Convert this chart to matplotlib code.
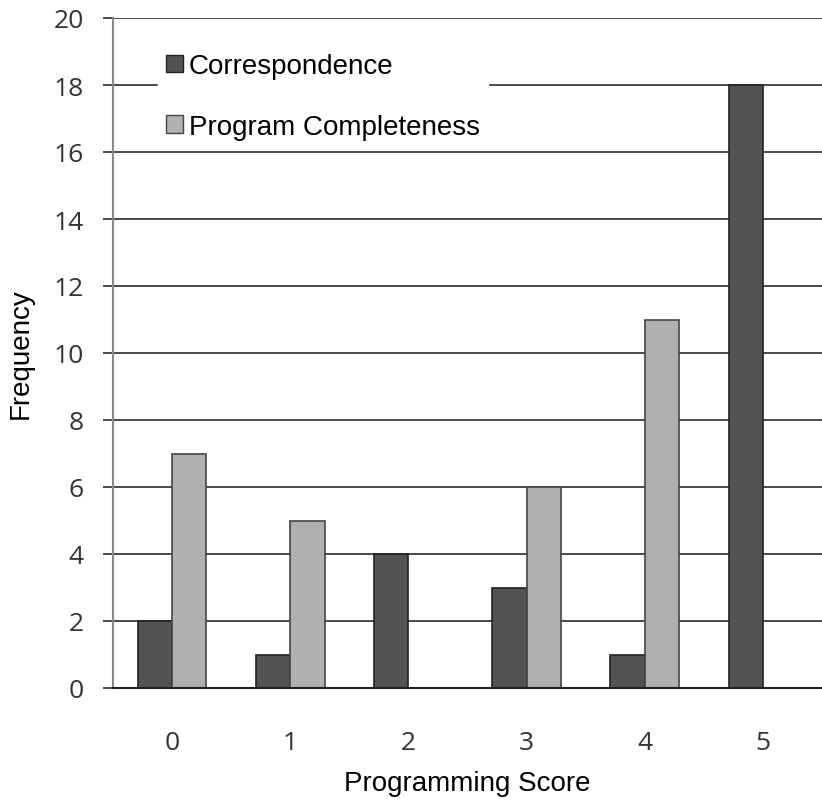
import matplotlib.pyplot as plt
import numpy as np
from matplotlib.patches import Patch

# data
scores = [0, 1, 2, 3, 4, 5]
correspondence = [2, 1, 4, 3, 1, 18]
completeness = [7, 5, 0, 6, 11, 0]
yticks = [0, 2, 4, 6, 8, 10, 12, 14, 16, 18, 20]

dark = '#535353'
light = '#b0b0b0'

fig = plt.figure(figsize=(8.22, 8.03), dpi=100)
ax = fig.add_axes([113/822, 114/803, 709/822, 670/803])

x = np.arange(len(scores))
w = 0.29
ax.bar(x - w/2, correspondence, width=w, color=dark, edgecolor='#222222', linewidth=1.2, zorder=3)
ax.bar(x + w/2, completeness, width=w, color=light, edgecolor='#444444', linewidth=1.2, zorder=3)

ax.set_xlim(-0.5, 5.5)
ax.set_ylim(0, 20)
ax.set_yticks(yticks)
ax.set_xticks(x)
ax.set_xticklabels([str(s) for s in scores])

# grid lines
ax.yaxis.grid(True, color='#4a4a4a', linewidth=1.4)
ax.set_axisbelow(True)
for s in ['top', 'right']:
    ax.spines[s].set_visible(False)
ax.spines['left'].set_color('#888888')
ax.spines['left'].set_linewidth(1.5)
ax.spines['bottom'].set_color('#222222')
ax.spines['bottom'].set_linewidth(1.5)
ax.spines['bottom'].set_zorder(4)

ax.tick_params(axis='y', length=7, width=1.4, color='#4a4a4a', pad=14,
               labelsize=19, labelcolor='#333333')
ax.tick_params(axis='x', length=0, pad=30, labelsize=19, labelcolor='#333333')
for lab in ax.get_xticklabels() + ax.get_yticklabels():
    lab.set_family('Open Sans')

ax.set_xlabel('Programming Score', fontsize=20, family='Liberation Sans', labelpad=11)
ax.set_ylabel('Frequency', fontsize=20, family='Liberation Sans', labelpad=14)

handles = [Patch(facecolor=dark, edgecolor='#222222', label='Correspondence'),
           Patch(facecolor=light, edgecolor='#444444', label='Program Completeness')]
leg = ax.legend(handles=handles, loc='upper left', bbox_to_anchor=(158/822, 757/803),
                bbox_transform=fig.transFigure,
                frameon=True, fancybox=False, framealpha=1, edgecolor='white',
                facecolor='white', prop={'family': 'Liberation Sans', 'size': 20},
                handlelength=0.6, handleheight=0.6, handletextpad=0.2,
                labelspacing=1.25, borderpad=0.3, borderaxespad=0)
leg.set_zorder(5)

fig.savefig('out.png', dpi=100)
